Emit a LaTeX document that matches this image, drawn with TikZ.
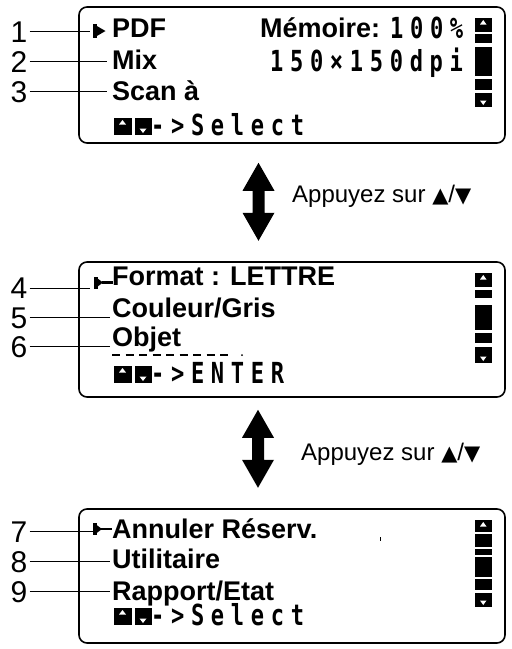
\documentclass[tikz,border=0pt]{standalone}
\usepackage{fontspec}
\setmainfont{Liberation Sans}
\newfontfamily\lcdfont[FakeStretch=0.76,LetterSpace=23]{DejaVu Sans Mono}
\newfontfamily\symfont{DejaVu Sans}
\usetikzlibrary{positioning}

\begin{document}
\begin{tikzpicture}[x=1pt,y=-1pt,
    screen/.style={draw, line width=1.6pt, rounded corners=8pt, minimum width=426pt, inner sep=0pt},
    entry/.style={font=\fontsize{27}{27}\selectfont\bfseries, inner sep=0pt, anchor=base west},
    lcd/.style={font=\lcdfont\fontsize{29}{29}\selectfont\bfseries, inner sep=0pt, anchor=base west},
    num/.style={font=\fontsize{30}{30}\selectfont, inner xsep=2pt, inner ysep=0pt, text height=21.5pt, text depth=0pt},
    hint/.style={font=\fontsize{24}{24}\selectfont, inner sep=0pt, anchor=base west},
    leader/.style={line width=0.8pt},
    bar/.style={fill=black},
    notch/.style={fill=white}]
    \useasboundingbox (0,0) rectangle (512,649);

    % Three screens
    \node[screen, minimum height=136pt] (box1) at (292,75) {};
    \node[screen, minimum height=135pt] (box2) at (292,329.5) {};
    \node[screen, minimum height=134pt] (box3) at (292,576) {};

    % Screen 1
    \node[entry] (pdf) at (112,37) {PDF};
    \node[entry] (mem) at (260,37.5) {Mémoire:};
    \node[lcd] (pct) at (390,38) {100\%};
    \node[entry] (mix) at (112,69) {Mix};
    \node[lcd] (dpi) at (270,71.5) {150×150dpi};
    \node[entry] (scan) at (112,100.5) {Scan à};
    \node[lcd] (sel1) at (151,135) {->Select};

    % Screen 2
    \node[entry] (fmt) at (112,285) {Format : LETTRE};
    \node[entry] (coul) at (112,317.3) {Couleur/Gris};
    \node[entry] (obj) at (112,346.7) {Objet};
    \draw[line width=2pt, dash pattern=on 8pt off 5.5pt] (112,355) -- (232,355);
    \fill (242,355) circle (1pt);
    \node[lcd] (ent) at (151,383) {->ENTER};

    % Screen 3
    \node[entry] (ann) at (112,538.3) {Annuler Réserv.};
    \draw[line width=0.7pt] (380,537) -- (380,541);
    \node[entry] (util) at (112,568.3) {Utilitaire};
    \node[entry] (rap) at (112,600) {Rapport/Etat};
    \node[lcd] (sel3) at (151,625) {->Select};

    % Key icons
    \foreach \yb in {135,383,625} {
        \fill[bar] (113.5,\yb-17) rectangle (131.5,\yb);
        \fill[notch] (122.5,\yb-15) -- (126,\yb-10.5) -- (119,\yb-10.5) -- cycle;
        \fill[bar] (134.5,\yb-17) rectangle (151.5,\yb);
        \fill[notch] (143,\yb-2) -- (146.5,\yb-6.5) -- (139.5,\yb-6.5) -- cycle;
    }

    % Scroll bars
    \foreach \a/\b in {18/32, 34/43, 47/76, 79/90, 93/107,
                       273/287, 290/298, 305/330, 333/343, 347/363,
                       520/532, 534/547, 549/555, 557/577, 579/590, 593/607}
        \fill[bar] (475,\a) rectangle (491.5,\b);
    \foreach \t/\u in {18/107, 273/363, 520/607} {
        \fill[notch] (483.25,\t+2) -- (486.5,\t+6.5) -- (480,\t+6.5) -- cycle;
        \fill[notch] (483.25,\u-2) -- (486.5,\u-6.5) -- (480,\u-6.5) -- cycle;
    }

    % Cursors
    \coordinate (c1) at (93,31);
    \coordinate (c2) at (94,282.5);
    \coordinate (c3) at (93,529);
    \fill (c1) ++(0,-7) rectangle ++(3.5,14);
    \fill (c1) ++(3,-5.5) -- ++(9.5,5.5) -- ++(-9.5,5.5) -- cycle;
    \foreach \c in {c2,c3} {
        \fill (\c) ++(0,-6) rectangle ++(3.5,12);
        \fill (\c) ++(3,-4.5) -- ++(6,4.5) -- ++(-6,4.5) -- cycle;
        \draw[line width=2.2pt] (\c) ++(8,0) -- ++(11,0);
    }

    % Callout numbers
    \foreach \k/\y/\xe in {1/31.7/90, 2/61.7/107, 3/91.7/107,
                           4/288/90, 5/317.3/110, 6/346.7/110,
                           7/531.7/93, 8/561.7/110, 9/591.7/110} {
        \node[num] (n\k) at (19,\y) {\k};
        \coordinate (e\k) at (\xe,\y);
        \draw[leader] (n\k.east) -- (e\k);
    }

    % Up/down arrows
    \coordinate (ar1) at ([xshift=-33.5pt,yshift=-19pt]box1.south);
    \coordinate (ar2) at ([xshift=-34pt,yshift=-12pt]box2.south);
    \foreach \p in {ar1,ar2}
        \fill (\p) -- ++(16,28) -- ++(-10,0) -- ++(0,22) -- ++(10,0) -- ++(-16,28)
              -- ++(-16,-28) -- ++(10,0) -- ++(0,-22) -- ++(-10,0) -- cycle;
    \node[hint] (hint1) at (292,202.7) {Appuyez sur {\symfont\fontsize{21}{21}\selectfont▲}/{\symfont\fontsize{21}{21}\selectfont▼}};
    \node[hint] (hint2) at (301,460) {Appuyez sur {\symfont\fontsize{21}{21}\selectfont▲}/{\symfont\fontsize{21}{21}\selectfont▼}};
\end{tikzpicture}
\end{document}
